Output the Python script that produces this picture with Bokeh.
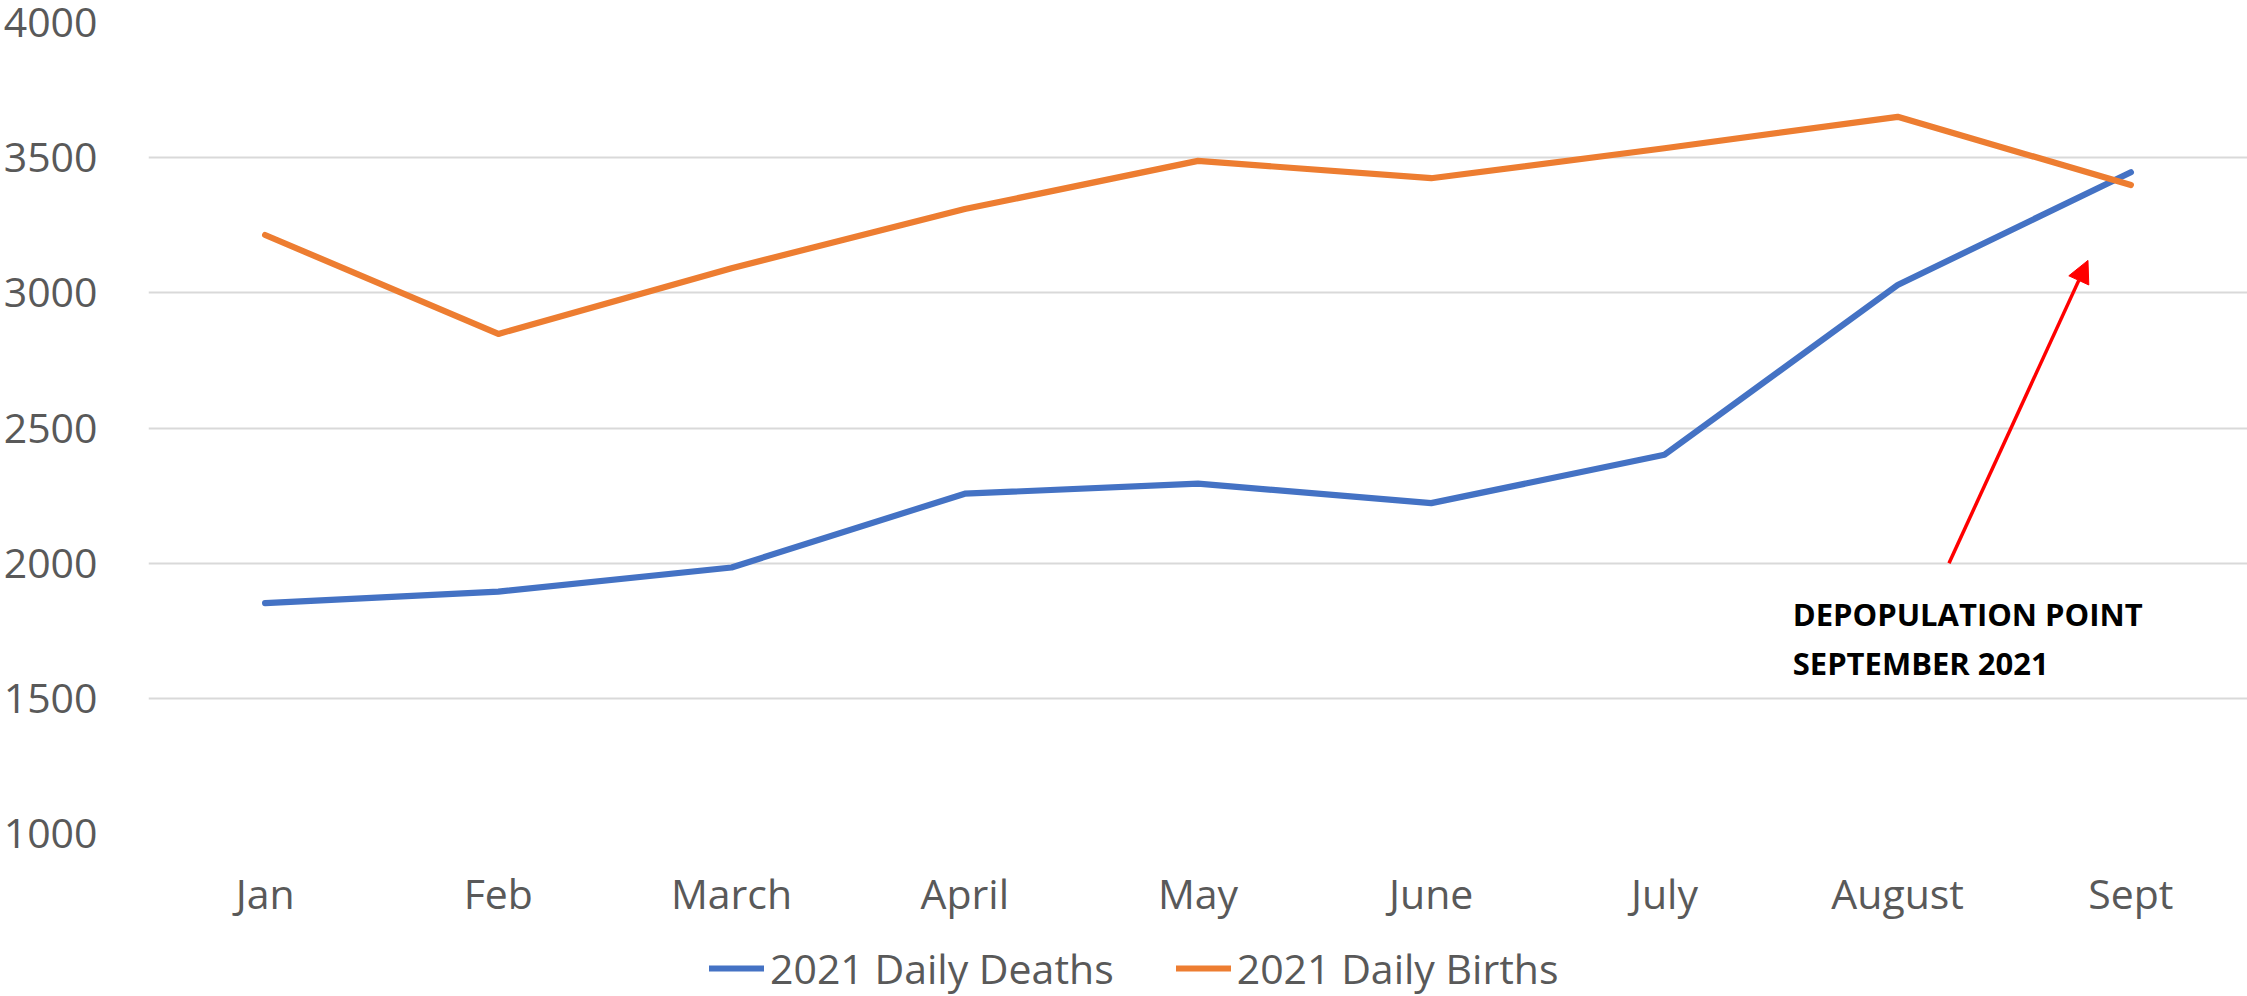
from bokeh.plotting import figure
from bokeh.layouts import column
from bokeh.models import (Range1d, FactorRange, Legend, LegendItem, Arrow,
                          NormalHead, FixedTicker)
from bokeh.embed import file_html
from bokeh.resources import INLINE
from bokeh.core.properties import value

# ---- data ----
months = ["Jan", "Feb", "March", "April", "May", "June", "July", "August", "Sept"]
deaths = [1852, 1895, 1984, 2257, 2294, 2222, 2401, 3029, 3446]
births = [3214, 2848, 3091, 3310, 3488, 3424, 3535, 3651, 3399]
y_ticks = [1000, 1500, 2000, 2500, 3000, 3500, 4000]
series_names = ["2021 Daily Deaths", "2021 Daily Births"]
annotation_lines = ["DEPOPULATION POINT", "SEPTEMBER 2021"]

FONT = "Open Sans"
GREY = "#595959"
BLUE = "#4472C4"
ORANGE = "#ED7D31"
LW = 6.2

p = figure(width=2247, height=930, output_backend="svg", toolbar_location=None,
           x_range=FactorRange(factors=months, range_padding=0),
           y_range=Range1d(1000, 4000),
           min_border_top=22, min_border_left=146, min_border_right=0,
           min_border_bottom=97)
p.outline_line_color = None
p.background_fill_color = "white"
p.border_fill_color = "white"

# axes
p.yaxis.ticker = FixedTicker(ticks=y_ticks)
for ax in (p.xaxis[0], p.yaxis[0]):
    ax.axis_line_color = None
    ax.major_tick_line_color = None
    ax.minor_tick_line_color = None
    ax.major_label_text_font = FONT
    ax.major_label_text_font_size = "41px"
    ax.major_label_text_color = GREY
p.yaxis.major_label_standoff = 45
p.xaxis.major_label_standoff = 25

p.xgrid.grid_line_color = None
p.ygrid.grid_line_color = "#D9D9D9"
p.ygrid.grid_line_width = 1.8

p.line(months, deaths, line_color=BLUE, line_width=LW, line_cap="round",
       line_join="round")
p.line(months, births, line_color=ORANGE, line_width=LW, line_cap="round",
       line_join="round")

# annotation
p.add_layout(Arrow(end=NormalHead(size=22, fill_color="red", line_color="red"),
                   x_start=7.72, y_start=2000, x_end=8.316, y_end=3120,
                   line_color="red", line_width=3.5))
p.text(x=[7.05, 7.05], y=[1813, 1632], text=annotation_lines,
       text_font=value(FONT), text_font_style="bold", text_font_size="31px",
       text_color="black", text_align="left", text_baseline="middle")

# legend strip below the chart (proxy renderers only carry the line style)
lg = figure(width=2247, height=66, output_backend="svg", toolbar_location=None,
            x_range=Range1d(0, 1), y_range=Range1d(0, 1), min_border=0)
lg.axis.visible = False
lg.grid.visible = False
lg.outline_line_color = None
l_d = lg.line(x=[-1], y=[-1], line_color=BLUE, line_width=LW, line_cap="round")
l_b = lg.line(x=[-1], y=[-1], line_color=ORANGE, line_width=LW, line_cap="round")
legend = Legend(items=[LegendItem(label=series_names[0], renderers=[l_d]),
                       LegendItem(label=series_names[1], renderers=[l_b])],
                orientation="horizontal", location=(561, 0),
                label_text_font=FONT, label_text_font_size="41px",
                label_text_color=GREY, glyph_width=55, glyph_height=40,
                label_height=40, label_standoff=6, spacing=62, padding=0,
                margin=0, border_line_alpha=0, background_fill_alpha=0)
lg.add_layout(legend, "center")

open("out.html", "w").write(file_html(column(p, lg, spacing=0), INLINE))
